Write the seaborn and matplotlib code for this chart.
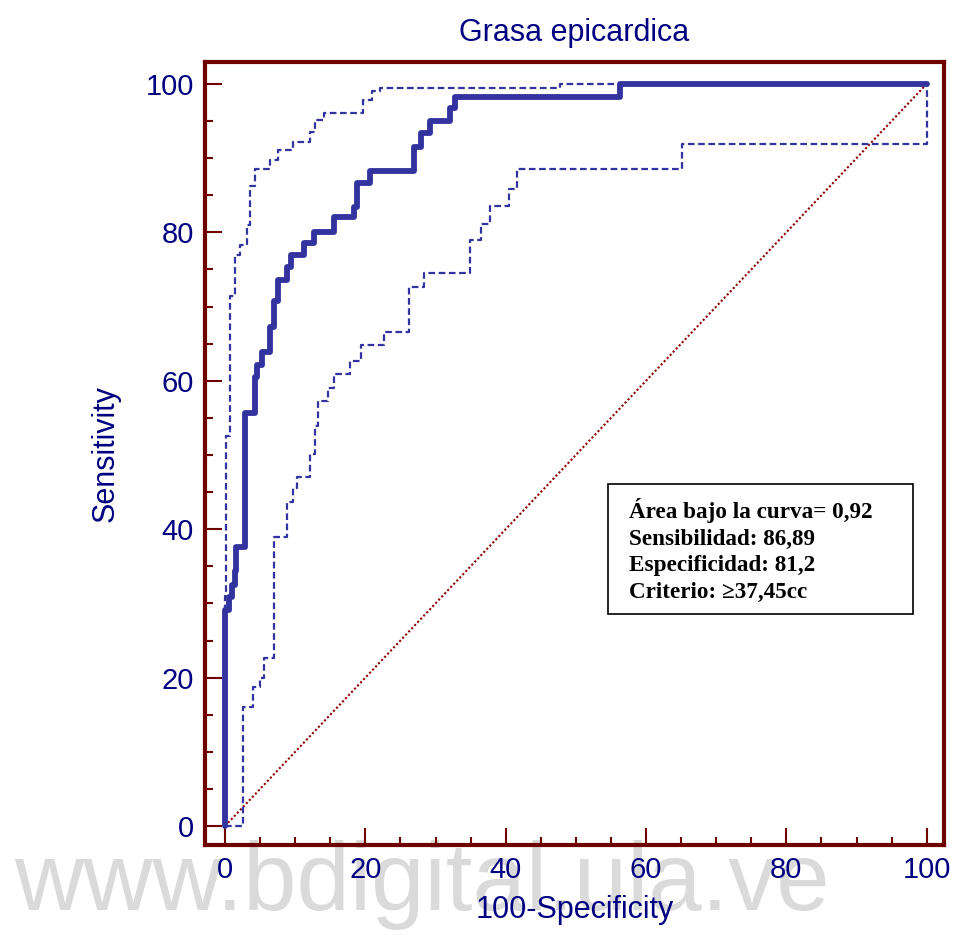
import matplotlib
matplotlib.use("Agg")
import matplotlib.pyplot as plt
import seaborn as sns
import pandas as pd
from matplotlib.patches import Rectangle
from matplotlib.ticker import MultipleLocator

# ---- data ----
fpr_roc = [0, 0, 0.6, 0.95, 1.4, 1.6, 2.85, 4.3, 4.6, 5.2, 6.4, 7.0, 7.6, 8.9, 9.4,
           11.2, 12.7, 15.5, 18.4, 18.8, 20.6, 26.9, 28.0, 29.2, 32.0, 32.8, 56.3, 100]
tpr_roc = [0, 29.1, 30.9, 32.5, 34.3, 37.6, 55.7, 60.5, 62.1, 63.9, 67.2, 70.7, 73.6, 75.3, 77.0,
           78.6, 80.1, 82.1, 83.4, 86.7, 88.3, 91.5, 93.4, 95.0, 96.7, 98.2, 100, 100]

fpr_upper = [0, 0, 0.15, 0.65, 1.4, 2.1, 3.1, 3.6, 4.3, 6.4, 7.6, 9.7, 12.1, 12.8, 14.1,
             19.7, 20.9, 22.1, 47.7, 100]
tpr_upper = [0, 31.0, 52.5, 71.4, 77.0, 78.3, 81.0, 86.2, 88.6, 89.8, 91.1, 92.2, 93.5, 95.1, 96.1,
             97.9, 99.1, 99.4, 100, 100]

fpr_lower = [0, 2.5, 4.0, 5.0, 5.6, 7.0, 8.8, 9.7, 10.3, 12.1, 12.8, 13.3, 14.7, 15.5, 17.8,
             19.4, 22.6, 26.2, 28.4, 34.9, 36.5, 37.7, 40.4, 41.6, 65.1, 100]
tpr_lower = [0, 16.0, 18.8, 19.9, 22.6, 38.9, 43.7, 45.5, 47.0, 50.2, 53.9, 57.3, 59.0, 60.9, 62.7,
             64.8, 66.6, 72.6, 74.5, 79.0, 81.1, 83.6, 85.9, 88.6, 91.9, 100]

diag = [0, 100]
ticks = [0, 20, 40, 60, 80, 100]

title = "Grasa epicardica"
xlabel = "100-Specificity"
ylabel = "Sensitivity"
box_lines = ["Área bajo la curva= 0,92",
             "Sensibilidad: 86,89",
             "Especificidad: 81,2",
             "Criterio: \u226537,45cc"]
watermark = "www.bdigital.ula.ve"

# ---- style ----
sns.set_style("white")
plt.rcParams["font.family"] = ["Liberation Sans", "DejaVu Sans"]

navy = "#000080"
frame = "#6E0000"
curve = "#33339F"

fig = plt.figure(figsize=(9.55, 9.36), dpi=100)
ax = fig.add_axes([0.2147, 0.0972, 0.7738, 0.8369])
ax.set_facecolor("none")

df_roc = pd.DataFrame({"fpr": fpr_roc, "tpr": tpr_roc})
df_up = pd.DataFrame({"fpr": fpr_upper, "tpr": tpr_upper})
df_lo = pd.DataFrame({"fpr": fpr_lower, "tpr": tpr_lower})
df_d = pd.DataFrame({"fpr": diag, "tpr": diag})

sns.lineplot(data=df_d, x="fpr", y="tpr", ax=ax, color="#8B0000", lw=1.5,
             linestyle=(0, (1, 1.1)), sort=False, estimator=None, zorder=2)
sns.lineplot(data=df_up, x="fpr", y="tpr", ax=ax, color=curve, lw=1.6,
             linestyle=(0, (3, 1.6)), drawstyle="steps-post", sort=False, estimator=None, zorder=3)
sns.lineplot(data=df_lo, x="fpr", y="tpr", ax=ax, color=curve, lw=1.6,
             linestyle=(0, (3, 1.6)), drawstyle="steps-post", sort=False, estimator=None, zorder=3)
sns.lineplot(data=df_roc, x="fpr", y="tpr", ax=ax, color=curve, lw=4.2,
             drawstyle="steps-post", sort=False, estimator=None, zorder=4)

ax.set_xlim(-2.85, 102.47)
ax.set_ylim(-2.56, 103.0)
ax.set_xticks(ticks)
ax.set_yticks(ticks)
ax.xaxis.set_minor_locator(MultipleLocator(5))
ax.yaxis.set_minor_locator(MultipleLocator(5))
ax.tick_params(which="major", direction="in", length=12, width=1.5, color=frame,
               labelsize=21, labelcolor=navy, pad=8, bottom=True, left=True)
ax.tick_params(which="minor", direction="in", length=6, width=1.5, color=frame,
               bottom=True, left=True)

for s in ax.spines.values():
    s.set_color(frame)
    s.set_linewidth(3)
    s.set_visible(True)

ax.set_title(title, fontsize=22, color=navy, pad=15)
ax.set_xlabel(xlabel, fontsize=22, color=navy, labelpad=8)
ax.set_ylabel(ylabel, fontsize=22, color=navy, labelpad=18)

# annotation box
ax.add_patch(Rectangle((54.6, 28.6), 98.1 - 54.6, 46.1 - 28.6, fill=False,
                       edgecolor="black", lw=1.2, zorder=5))
for i, line in enumerate(box_lines):
    ax.text(57.6, 41.5 - i * 3.57, line, fontsize=16.7, fontweight="bold",
            family=["Liberation Serif", "DejaVu Serif"], color="black",
            ha="left", va="baseline", zorder=6)

fig.text(422 / 955, (936 - 910) / 936, watermark, fontsize=69, color="#DADADA",
         ha="center", va="baseline", zorder=-1)

fig.savefig("out.png", dpi=100)
